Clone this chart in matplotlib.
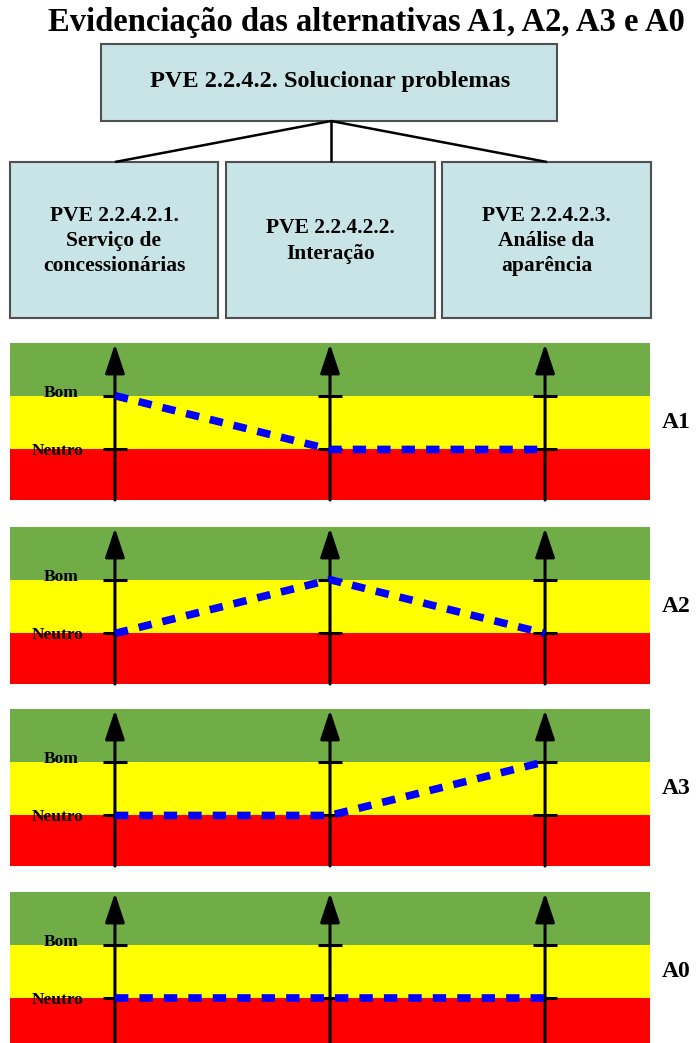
import matplotlib
matplotlib.use("Agg")
import matplotlib.pyplot as plt
from matplotlib.patches import Rectangle

# ---------------- data ----------------
title = "Evidenciação das alternativas A1, A2, A3 e A0"
root_label = "PVE 2.2.4.2. Solucionar problemas"
criteria = [
    "PVE 2.2.4.2.1.\nServiço de\nconcessionárias",
    "PVE 2.2.4.2.2.\nInteração",
    "PVE 2.2.4.2.3.\nAnálise da\naparência",
]
level_names = ["Neutro", "Bom"]          # level value 0 = Neutro, 1 = Bom
alternatives = ["A1", "A2", "A3", "A0"]
A1 = [1, 0, 0]
A2 = [0, 1, 0]
A3 = [0, 0, 1]
A0 = [0, 0, 0]
alt_values = [A1, A2, A3, A0]

# ---------------- style ----------------
W, H = 699, 1043
DPI = 100
serif = ["Liberation Serif", "DejaVu Serif"]
box_fc = "#c8e4e7"
box_ec = "#505050"
green, yellow, red = "#70ad47", "#ffff00", "#ff0000"
blue = "#0000ff"

fig = plt.figure(figsize=(W / DPI, H / DPI), dpi=DPI)

# background axes in pixel coordinates for diagram part
bg = fig.add_axes([0, 0, 1, 1])
bg.set_xlim(0, W)
bg.set_ylim(H, 0)
bg.axis("off")

bg.text(366, 22, title, ha="center", va="center", fontsize=23.5,
        fontweight="bold", family=serif)

# root box
bg.add_patch(Rectangle((101, 44), 456, 77, fc=box_fc, ec=box_ec, lw=1.5))
bg.text(330, 82, root_label, ha="center", va="center", fontsize=17.5,
        fontweight="bold", family=serif)

# children boxes
child_x = [(10, 218), (226, 435), (442, 651)]
for (x0, x1), lab in zip(child_x, criteria):
    bg.add_patch(Rectangle((x0, 162), x1 - x0, 156, fc=box_fc, ec=box_ec, lw=1.5))
    bg.text((x0 + x1) / 2, 241, lab, ha="center", va="center", fontsize=15.5,
            fontweight="bold", family=serif, linespacing=1.36)

# connector lines
apex = (331, 121)
for ex in (115, 331, 547):
    bg.plot([apex[0], ex], [apex[1], 162], color="black", lw=1.8,
            solid_capstyle="butt")

# ---------------- panels ----------------
panel_tops = [343, 527, 709, 892]
panel_h = 157
ylo, yhi = -0.94, 1.98
xs = [0, 1, 2]
for top, name, vals in zip(panel_tops, alternatives, alt_values):
    ax = fig.add_axes([10 / W, 1 - (top + panel_h) / H, 640 / W, panel_h / H])
    ax.set_xlim(-0.488, 2.488)
    ax.set_ylim(ylo, yhi)
    ax.axis("off")
    ax.axhspan(ylo, 0, color=red, lw=0)
    ax.axhspan(0, 1, color=yellow, lw=0)
    ax.axhspan(1, yhi, color=green, lw=0)
    for x in xs:
        ax.annotate("", xy=(x, yhi - 0.02), xytext=(x, ylo),
                    arrowprops=dict(arrowstyle="-|>,head_length=1.8,head_width=0.6",
                                    mutation_scale=10, lw=2.2, color="black",
                                    shrinkA=0, shrinkB=0))
        for lv in (0, 1):
            ax.plot([x - 0.056, x + 0.056], [lv, lv], color="black", lw=2.2,
                    solid_capstyle="butt")
    ax.text(-0.17, 1.05, level_names[1], ha="right", va="center", fontsize=12.5,
            fontweight="bold", family=serif)
    ax.text(-0.145, -0.02, level_names[0], ha="right", va="center", fontsize=12.5,
            fontweight="bold", family=serif)
    ax.plot(xs, vals, color=blue, lw=5.5, dashes=(1.75, 1.45),
            dash_capstyle="butt", zorder=5)
    ax.text(2.545, 0.5, name, ha="left", va="center", fontsize=17,
            fontweight="bold", family=serif, clip_on=False)

fig.savefig("out.png", dpi=DPI)
